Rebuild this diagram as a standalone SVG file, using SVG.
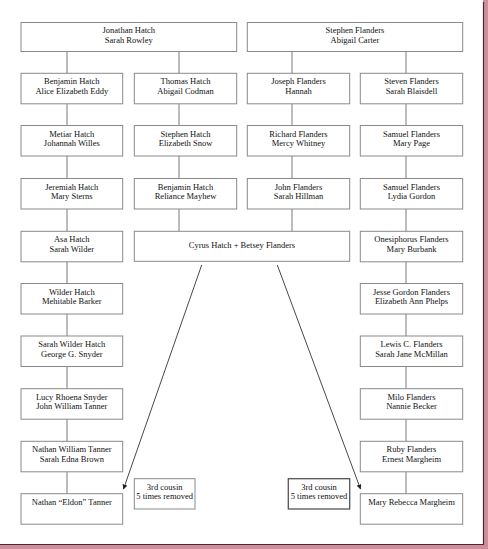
<svg xmlns="http://www.w3.org/2000/svg" width="488" height="549" viewBox="0 0 488 549">
<style>
.b{fill:#fff;stroke:#8a8a8a;stroke-width:1}
.b2{fill:#fff;stroke:#555;stroke-width:1.3}
.t{font-family:"Liberation Serif","Times New Roman",serif;font-size:8.5px;fill:#111;text-anchor:middle}
.c{stroke:#7a7a7a;stroke-width:1;fill:none}
.a{stroke:#333;stroke-width:0.9;fill:none;marker-end:url(#ah)}
</style>
<defs>
<marker id="ah" viewBox="0 0 10 10" refX="9" refY="5" markerWidth="5" markerHeight="5" orient="auto" markerUnits="userSpaceOnUse">
<path d="M0,0 L10,5 L0,10 z" fill="#222"/>
</marker>
</defs>
<rect x="0" y="0" width="488" height="549" fill="#fff"/>
<g id="frame">
<rect x="483" y="0" width="5" height="549" fill="#cf8e9b"/>
<rect x="0" y="544" width="488" height="5" fill="#cf8e9b"/>
<path d="M483.5,2 V544.5 H0" stroke="#4d2a31" stroke-width="1.2" fill="none"/>
</g>
<g id="connectors">
<line class="c" x1="67" y1="51.5" x2="67" y2="494"/>
<line class="c" x1="179" y1="51.5" x2="179" y2="231.5"/>
<line class="c" x1="292" y1="51.5" x2="292" y2="231.5"/>
<line class="c" x1="406" y1="51.5" x2="406" y2="494"/>
<line class="a" x1="201.7" y1="265" x2="123.5" y2="489"/>
<line class="a" x1="277.3" y1="265" x2="360.5" y2="489"/>
</g>
<g id="jonathan"><rect class="b" x="21" y="22.5" width="215.7" height="29"/><text class="t" x="128.8" y="33.3">Jonathan Hatch</text><text class="t" x="128.8" y="43">Sarah Rowley</text></g>
<g id="stephenF"><rect class="b" x="247.3" y="22.5" width="215.4" height="29"/><text class="t" x="355" y="33.3">Stephen Flanders</text><text class="t" x="355" y="43">Abigail Carter</text></g>

<g id="l1"><rect class="b" x="21" y="73.3" width="101.7" height="30.5"/><text class="t" x="71.8" y="84.3">Benjamin Hatch</text><text class="t" x="71.8" y="93.8">Alice Elizabeth Eddy</text></g>
<g id="l2"><rect class="b" x="21" y="125.5" width="101.7" height="30.5"/><text class="t" x="71.8" y="136.5">Metiar Hatch</text><text class="t" x="71.8" y="146">Johannah Willes</text></g>
<g id="l3"><rect class="b" x="21" y="178.5" width="101.7" height="30.5"/><text class="t" x="71.8" y="189.5">Jeremiah Hatch</text><text class="t" x="71.8" y="199">Mary Sterns</text></g>
<g id="l4"><rect class="b" x="21" y="231.3" width="101.7" height="30.5"/><text class="t" x="71.8" y="242.3">Asa Hatch</text><text class="t" x="71.8" y="251.8">Sarah Wilder</text></g>
<g id="l5"><rect class="b" x="21" y="283.5" width="101.7" height="30.5"/><text class="t" x="71.8" y="294.5">Wilder Hatch</text><text class="t" x="71.8" y="304">Mehitable Barker</text></g>
<g id="l6"><rect class="b" x="21" y="336" width="101.7" height="30.5"/><text class="t" x="71.8" y="347">Sarah Wilder Hatch</text><text class="t" x="71.8" y="356.5">George G. Snyder</text></g>
<g id="l7"><rect class="b" x="21" y="388.7" width="101.7" height="30.5"/><text class="t" x="71.8" y="399.7">Lucy Rhoena Snyder</text><text class="t" x="71.8" y="409.2">John William Tanner</text></g>
<g id="l8"><rect class="b" x="21" y="441.3" width="101.7" height="30.5"/><text class="t" x="71.8" y="452.3">Nathan William Tanner</text><text class="t" x="71.8" y="461.8">Sarah Edna Brown</text></g>
<g id="l9"><rect class="b" x="21" y="493.7" width="101.7" height="30.5"/><text class="t" x="71.8" y="504.7">Nathan “Eldon” Tanner</text></g>

<g id="c2r1"><rect class="b" x="134.3" y="73.3" width="102.4" height="30.5"/><text class="t" x="185.5" y="84.3">Thomas Hatch</text><text class="t" x="185.5" y="93.8">Abigail Codman</text></g>
<g id="c2r2"><rect class="b" x="134.3" y="125.5" width="102.4" height="30.5"/><text class="t" x="185.5" y="136.5">Stephen Hatch</text><text class="t" x="185.5" y="146">Elizabeth Snow</text></g>
<g id="c2r3"><rect class="b" x="134.3" y="178.5" width="102.4" height="30.5"/><text class="t" x="185.5" y="189.5">Benjamin Hatch</text><text class="t" x="185.5" y="199">Reliance Mayhew</text></g>
<g id="cyrus"><rect class="b" x="134.3" y="231.3" width="215.4" height="30"/><text class="t" x="242" y="248.3">Cyrus Hatch + Betsey Flanders</text></g>

<g id="c3r1"><rect class="b" x="247.3" y="73.3" width="102.4" height="30.5"/><text class="t" x="298.5" y="84.3">Joseph Flanders</text><text class="t" x="298.5" y="93.8">Hannah</text></g>
<g id="c3r2"><rect class="b" x="247.3" y="125.5" width="102.4" height="30.5"/><text class="t" x="298.5" y="136.5">Richard Flanders</text><text class="t" x="298.5" y="146">Mercy Whitney</text></g>
<g id="c3r3"><rect class="b" x="247.3" y="178.5" width="102.4" height="30.5"/><text class="t" x="298.5" y="189.5">John Flanders</text><text class="t" x="298.5" y="199">Sarah Hillman</text></g>

<g id="r1"><rect class="b" x="360.3" y="73.3" width="102.4" height="30.5"/><text class="t" x="411.5" y="84.3">Steven Flanders</text><text class="t" x="411.5" y="93.8">Sarah Blaisdell</text></g>
<g id="r2"><rect class="b" x="360.3" y="125.5" width="102.4" height="30.5"/><text class="t" x="411.5" y="136.5">Samuel Flanders</text><text class="t" x="411.5" y="146">Mary Page</text></g>
<g id="r3"><rect class="b" x="360.3" y="178.5" width="102.4" height="30.5"/><text class="t" x="411.5" y="189.5">Samuel Flanders</text><text class="t" x="411.5" y="199">Lydia Gordon</text></g>
<g id="r4"><rect class="b" x="360.3" y="231.3" width="102.4" height="30.5"/><text class="t" x="411.5" y="242.3">Onesiphorus Flanders</text><text class="t" x="411.5" y="251.8">Mary Burbank</text></g>
<g id="r5"><rect class="b" x="360.3" y="283.5" width="102.4" height="30.5"/><text class="t" x="411.5" y="294.5">Jesse Gordon Flanders</text><text class="t" x="411.5" y="304">Elizabeth Ann Phelps</text></g>
<g id="r6"><rect class="b" x="360.3" y="336" width="102.4" height="30.5"/><text class="t" x="411.5" y="347">Lewis C. Flanders</text><text class="t" x="411.5" y="356.5">Sarah Jane McMillan</text></g>
<g id="r7"><rect class="b" x="360.3" y="388.7" width="102.4" height="30.5"/><text class="t" x="411.5" y="399.7">Milo Flanders</text><text class="t" x="411.5" y="409.2">Nannie Becker</text></g>
<g id="r8"><rect class="b" x="360.3" y="441.3" width="102.4" height="30.5"/><text class="t" x="411.5" y="452.3">Ruby Flanders</text><text class="t" x="411.5" y="461.8">Ernest Margheim</text></g>
<g id="r9"><rect class="b" x="360.3" y="493.7" width="102.4" height="30.5"/><text class="t" x="411.5" y="504.7">Mary Rebecca Margheim</text></g>

<g id="cousinL"><rect class="b" x="134.3" y="478.7" width="60.7" height="30.3"/><text class="t" x="164.7" y="489.7">3rd cousin</text><text class="t" x="164.7" y="499">5 times removed</text></g>
<g id="cousinR"><rect class="b2" x="288.3" y="478.7" width="61.4" height="30.3"/><text class="t" x="319" y="489.7">3rd cousin</text><text class="t" x="319" y="499">5 times removed</text></g>
</svg>
